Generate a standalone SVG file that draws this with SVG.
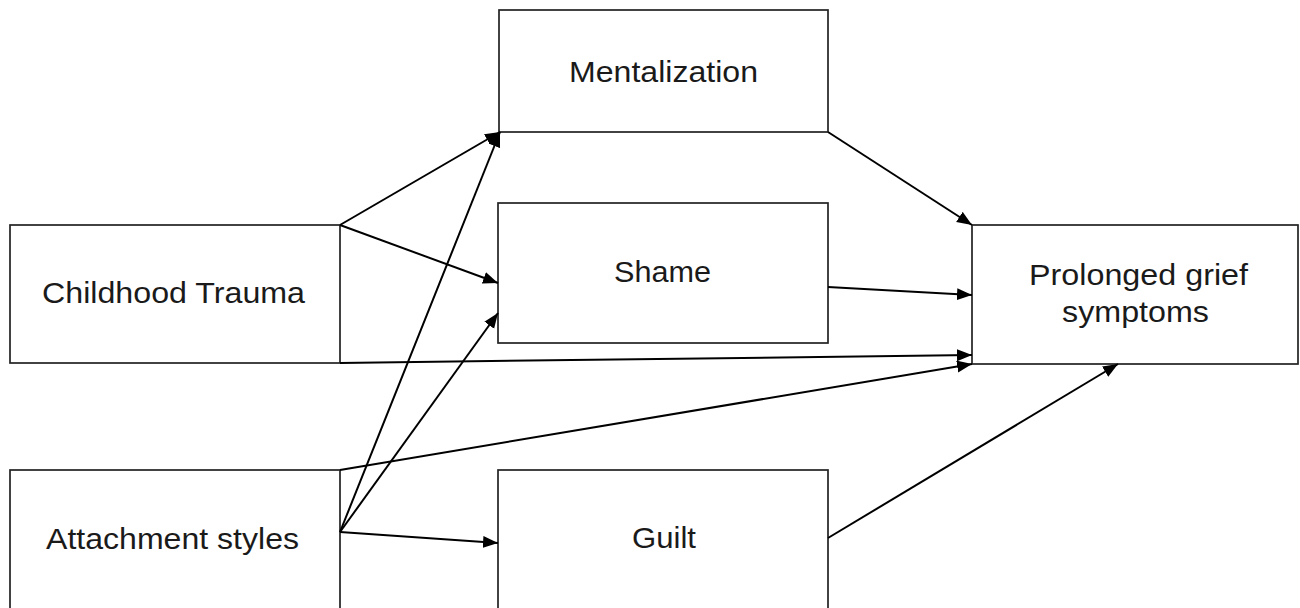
<svg xmlns="http://www.w3.org/2000/svg" width="1300" height="608" viewBox="0 0 1300 608">
<defs>
<style>
.box{fill:#fff;stroke:#222;stroke-width:1.7}
.lbl{font-family:"Liberation Sans",Arial,sans-serif;font-size:30px;fill:#1a1a1a;text-anchor:middle}
.conn{stroke:#000;stroke-width:2;fill:none;marker-end:url(#ah)}
</style>
<marker id="ah" markerUnits="userSpaceOnUse" markerWidth="17" markerHeight="13" refX="15" refY="6" orient="auto">
<path d="M0,0 L15,6 L0,12 z" fill="#000"/>
</marker>
</defs>
<rect width="1300" height="608" fill="#fff"/>
<g id="node-mentalization">
<rect class="box" x="499" y="10" width="329" height="122"/>
<text class="lbl" x="663.5" y="82" textLength="189" lengthAdjust="spacingAndGlyphs">Mentalization</text>
</g>
<g id="node-childhood-trauma">
<rect class="box" x="10" y="225" width="330" height="138"/>
<text class="lbl" x="173.5" y="303" textLength="263" lengthAdjust="spacingAndGlyphs">Childhood Trauma</text>
</g>
<g id="node-shame">
<rect class="box" x="498" y="203" width="330" height="140"/>
<text class="lbl" x="662.5" y="282" textLength="97" lengthAdjust="spacingAndGlyphs">Shame</text>
</g>
<g id="node-prolonged-grief">
<rect class="box" x="972" y="225" width="326" height="139"/>
<text class="lbl" x="1138.5" y="285" textLength="219" lengthAdjust="spacingAndGlyphs">Prolonged grief</text>
<text class="lbl" x="1135.5" y="322" textLength="147" lengthAdjust="spacingAndGlyphs">symptoms</text>
</g>
<g id="node-attachment-styles">
<rect class="box" x="10" y="470" width="330" height="145"/>
<text class="lbl" x="172.5" y="549" textLength="253" lengthAdjust="spacingAndGlyphs">Attachment styles</text>
</g>
<g id="node-guilt">
<rect class="box" x="498" y="470" width="330" height="145"/>
<text class="lbl" x="664" y="548" textLength="64" lengthAdjust="spacingAndGlyphs">Guilt</text>
</g>
<g id="connectors">
<line class="conn" x1="340" y1="225" x2="500" y2="132"/>
<line class="conn" x1="340" y1="225" x2="498" y2="283"/>
<line class="conn" x1="340" y1="363" x2="972" y2="355"/>
<line class="conn" x1="340" y1="532" x2="500" y2="132"/>
<line class="conn" x1="340" y1="532" x2="498" y2="313"/>
<line class="conn" x1="340" y1="470" x2="972" y2="364"/>
<line class="conn" x1="340" y1="532" x2="498" y2="543"/>
<line class="conn" x1="828" y1="132" x2="972" y2="225"/>
<line class="conn" x1="828" y1="287" x2="972" y2="295"/>
<line class="conn" x1="828" y1="538" x2="1118" y2="364"/>
</g>
</svg>
